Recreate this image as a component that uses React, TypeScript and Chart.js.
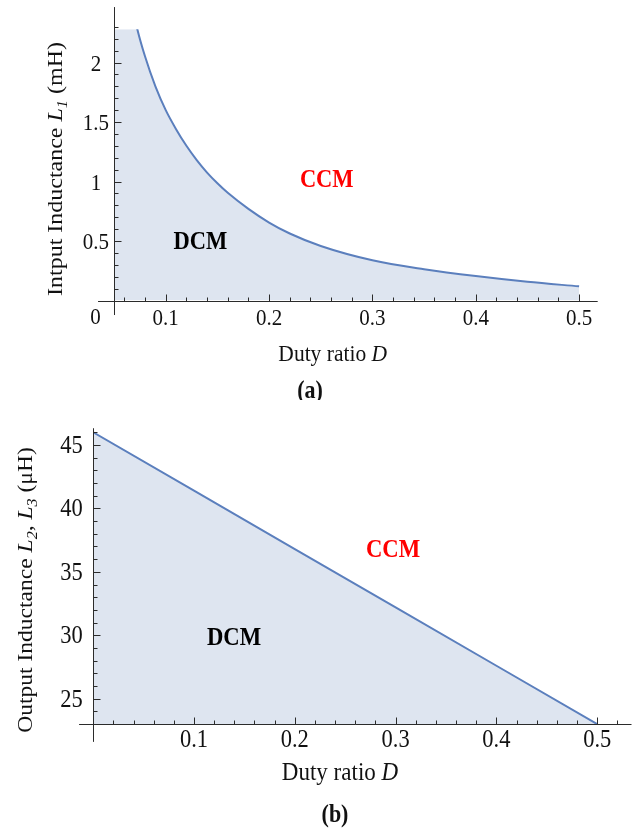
import React, { useEffect, useRef } from "react";
import { Chart, registerables } from "chart.js";

Chart.register(...registerables);

// ---------------- data ----------------
// (a) input inductance boundary L1 (mH) vs duty ratio D
const dutyA = [0.05, 0.06, 0.0725, 0.08, 0.09, 0.1, 0.11, 0.12, 0.13, 0.14, 0.15, 0.16, 0.18, 0.2, 0.22, 0.25, 0.3, 0.35, 0.4, 0.45, 0.5];
const inductanceL1 = [3.4, 2.78, 2.28, 2.05, 1.8, 1.6, 1.44, 1.3, 1.18, 1.075, 0.985, 0.905, 0.77, 0.655, 0.563, 0.458, 0.338, 0.263, 0.205, 0.157, 0.119];

// (b) output inductance boundary L2, L3 (uH) vs duty ratio D
const dutyB = [0, 0.1, 0.2, 0.3, 0.4, 0.5];
const inductanceL23 = [46, 41.4, 36.8, 32.2, 27.6, 23];

// tick labels
const ticksAX = [0.1, 0.2, 0.3, 0.4, 0.5];
const ticksAXLabels = ["0.1", "0.2", "0.3", "0.4", "0.5"];
const ticksAY = [0.5, 1, 1.5, 2];
const ticksAYLabels = ["0.5", "1", "1.5", "2"];
const ticksBX = [0.1, 0.2, 0.3, 0.4, 0.5];
const ticksBXLabels = ["0.1", "0.2", "0.3", "0.4", "0.5"];
const ticksBY = [25, 30, 35, 40, 45];
const ticksBYLabels = ["25", "30", "35", "40", "45"];

// region labels
const regionLabelsA = [
  { text: "DCM", d: 0.1335, l: 0.437, color: "#000000" },
  { text: "CCM", d: 0.2558, l: 0.956, color: "#ff0000" },
];
const regionLabelsB = [
  { text: "DCM", d: 0.1397, l: 29.23, color: "#000000" },
  { text: "CCM", d: 0.2974, l: 36.19, color: "#ff0000" },
];

// ---------------- styling ----------------
const FONT = '"Liberation Serif", "Times New Roman", Times, serif';
const LINE_COLOR = "#5b7fbd";
const FILL_COLOR = "#dee5f0";
const AXIS_COLOR = "#2b2b2b";
const STRETCH = 1.1;

type Part = { t: string; size: number; style?: string; weight?: string; dy?: number };

function fontOf(p: Part) {
  return `${p.style || "normal"} ${p.weight || "normal"} ${p.size}px ${FONT}`;
}

function drawParts(
  ctx: CanvasRenderingContext2D,
  parts: Part[],
  x: number,
  y: number,
  color: string,
  rotate = false,
  stretch = STRETCH
) {
  ctx.save();
  ctx.translate(x, y);
  if (rotate) {
    ctx.rotate(-Math.PI / 2);
    ctx.scale(stretch, 1);
  } else {
    ctx.scale(1, stretch);
  }
  ctx.fillStyle = color;
  ctx.textAlign = "left";
  ctx.textBaseline = "alphabetic";
  const widths = parts.map((p) => {
    ctx.font = fontOf(p);
    return ctx.measureText(p.t).width;
  });
  const total = widths.reduce((a, b) => a + b, 0);
  let cx = -total / 2;
  parts.forEach((p, i) => {
    ctx.font = fontOf(p);
    ctx.fillText(p.t, cx, p.dy || 0);
    cx += widths[i];
  });
  ctx.restore();
}

function steps(from: number, to: number, step: number, skip: number[]) {
  const out: number[] = [];
  const n = Math.round((to - from) / step);
  for (let i = 0; i <= n; i++) {
    const v = +(from + i * step).toFixed(6);
    if (!skip.some((s) => Math.abs(s - v) < 1e-9)) out.push(v);
  }
  return out;
}

type AxesSpec = {
  xAxisAt: number;
  yAxisAt: number;
  xExtent: [number, number];
  yExtent: [number, number];
  xMajor: number[];
  xLabels: string[];
  xMinor: number[];
  yMajor: number[];
  yLabels: string[];
  yMinor: number[];
  tickSize: number;
  xLabelOffset: number;
  yLabelOffset: number;
  yLabelBaseShift: number;
  regions: { text: string; d: number; l: number; color: string }[];
  regionSize: number;
  extra: (ctx: CanvasRenderingContext2D) => void;
};

function axesPlugin(spec: AxesSpec) {
  return {
    id: "mathAxes",
    afterDraw(chart: any) {
      const ctx: CanvasRenderingContext2D = chart.ctx;
      const xs = chart.scales.x;
      const ys = chart.scales.y;
      const ax = Math.round(ys.getPixelForValue(spec.xAxisAt)) + 0.5;
      const ay = Math.round(xs.getPixelForValue(spec.yAxisAt)) + 0.5;
      ctx.save();
      ctx.strokeStyle = AXIS_COLOR;
      ctx.lineWidth = 1;
      ctx.beginPath();
      ctx.moveTo(xs.getPixelForValue(spec.xExtent[0]), ax);
      ctx.lineTo(xs.getPixelForValue(spec.xExtent[1]), ax);
      ctx.moveTo(ay, ys.getPixelForValue(spec.yExtent[0]));
      ctx.lineTo(ay, ys.getPixelForValue(spec.yExtent[1]));
      const tick = (v: number, len: number, isX: boolean) => {
        if (isX) {
          const px = Math.round(xs.getPixelForValue(v)) + 0.5;
          ctx.moveTo(px, ax);
          ctx.lineTo(px, ax - len);
        } else {
          const py = Math.round(ys.getPixelForValue(v)) + 0.5;
          ctx.moveTo(ay, py);
          ctx.lineTo(ay + len, py);
        }
      };
      spec.xMajor.forEach((v) => tick(v, 7, true));
      spec.xMinor.forEach((v) => tick(v, 4, true));
      spec.yMajor.forEach((v) => tick(v, 7, false));
      spec.yMinor.forEach((v) => tick(v, 4, false));
      ctx.stroke();
      ctx.restore();

      spec.xMajor.forEach((v, i) => {
        drawParts(ctx, [{ t: spec.xLabels[i], size: spec.tickSize }], xs.getPixelForValue(v), ax + spec.xLabelOffset, "#111");
      });
      spec.yMajor.forEach((v, i) => {
        drawParts(
          ctx,
          [{ t: spec.yLabels[i], size: spec.tickSize }],
          ay - spec.yLabelOffset,
          ys.getPixelForValue(v) + spec.yLabelBaseShift,
          "#111"
        );
      });
      spec.regions.forEach((r) => {
        drawParts(
          ctx,
          [{ t: r.text, size: spec.regionSize, weight: "bold" }],
          xs.getPixelForValue(r.d),
          ys.getPixelForValue(r.l),
          r.color
        );
      });
      spec.extra(ctx);
    },
  };
}

export default function App() {
  const refA = useRef<HTMLCanvasElement | null>(null);
  const refB = useRef<HTMLCanvasElement | null>(null);

  useEffect(() => {
    if (!refA.current || !refB.current) return;

    const chartA = new Chart(refA.current, {
      type: "line",
      data: {
        datasets: [
          {
            data: dutyA.map((d, i) => ({ x: d, y: inductanceL1[i] })),
            borderColor: LINE_COLOR,
            borderWidth: 2,
            backgroundColor: FILL_COLOR,
            fill: "origin",
            pointRadius: 0,
            cubicInterpolationMode: "monotone",
            clip: 0,
          },
        ],
      },
      options: {
        responsive: false,
        animation: false,
        events: [],
        layout: { padding: { left: 114.07, right: 36.3, top: 29.2, bottom: 99.5 } },
        scales: {
          x: { type: "linear", min: 0.05, max: 0.518, display: false },
          y: { type: "linear", min: 0, max: 2.28, display: false },
        },
        plugins: { legend: { display: false }, tooltip: { enabled: false } },
      },
      plugins: [
        axesPlugin({
          xAxisAt: 0,
          yAxisAt: 0.05,
          xExtent: [0.0345, 0.518],
          yExtent: [-0.122, 2.466],
          xMajor: ticksAX,
          xLabels: ticksAXLabels,
          xMinor: steps(0.06, 0.5, 0.02, ticksAX),
          yMajor: ticksAY,
          yLabels: ticksAYLabels,
          yMinor: steps(0.1, 2.3, 0.1, ticksAY),
          tickSize: 21,
          xLabelOffset: 23.5,
          yLabelOffset: 18.6,
          yLabelBaseShift: 8,
          regions: regionLabelsA,
          regionSize: 22.5,
          extra: (ctx) => {
            drawParts(ctx, [{ t: "0", size: 21 }], 95.5, 324, "#111");
            drawParts(
              ctx,
              [
                { t: "Intput Inductance ", size: 22 },
                { t: "L", size: 22, style: "italic" },
                { t: "1", size: 15, style: "italic", dy: 5 },
                { t: " (mH)", size: 22 },
              ],
              62,
              169,
              "#111",
              true,
              1.09
            );
            drawParts(
              ctx,
              [
                { t: "Duty ratio ", size: 21.5 },
                { t: "D", size: 21.5, style: "italic" },
              ],
              332.7,
              361,
              "#111"
            );
            drawParts(ctx, [{ t: "(a)", size: 22, weight: "bold" }], 310, 398, "#111");
          },
        }) as any,
      ],
    });

    const chartB = new Chart(refB.current, {
      type: "line",
      data: {
        datasets: [
          {
            data: dutyB.map((d, i) => ({ x: d, y: inductanceL23[i] })),
            borderColor: LINE_COLOR,
            borderWidth: 2,
            backgroundColor: FILL_COLOR,
            fill: { value: 23 },
            pointRadius: 0,
            tension: 0,
          },
        ],
      },
      options: {
        responsive: false,
        animation: false,
        events: [],
        layout: { padding: { left: 93.2, right: 2.5, top: 28.5, bottom: 103.9 } },
        scales: {
          x: { type: "linear", min: 0, max: 0.534, display: false },
          y: { type: "linear", min: 23, max: 46.3, display: false },
        },
        plugins: { legend: { display: false }, tooltip: { enabled: false } },
      },
      plugins: [
        axesPlugin({
          xAxisAt: 23,
          yAxisAt: 0,
          xExtent: [-0.014, 0.534],
          yExtent: [21.6, 46.32],
          xMajor: ticksBX,
          xLabels: ticksBXLabels,
          xMinor: steps(0.02, 0.52, 0.02, ticksBX),
          yMajor: ticksBY,
          yLabels: ticksBYLabels,
          yMinor: steps(23, 46, 1, ticksBY),
          tickSize: 22.5,
          xLabelOffset: 22.6,
          yLabelOffset: 21.9,
          yLabelBaseShift: 8,
          regions: regionLabelsB,
          regionSize: 22.7,
          extra: (ctx) => {
            drawParts(
              ctx,
              [
                { t: "Output Inductance ", size: 22 },
                { t: "L", size: 22, style: "italic" },
                { t: "2", size: 15, style: "italic", dy: 5 },
                { t: ", ", size: 22 },
                { t: "L", size: 22, style: "italic" },
                { t: "3", size: 15, style: "italic", dy: 5 },
                { t: " (\u03bcH)", size: 22 },
              ],
              31.5,
              190,
              "#111",
              true,
              1.07
            );
            drawParts(
              ctx,
              [
                { t: "Duty ratio ", size: 23 },
                { t: "D", size: 23, style: "italic" },
              ],
              340,
              380,
              "#111"
            );
            drawParts(ctx, [{ t: "(b)", size: 22, weight: "bold" }], 335, 421.7, "#111");
          },
        }) as any,
      ],
    });

    return () => {
      chartA.destroy();
      chartB.destroy();
    };
  }, []);

  return (
    <div style={{ position: "absolute", left: 0, top: 0, width: 634, height: 828, background: "#fff" }}>
      <canvas ref={refA} width={634} height={400} style={{ position: "absolute", left: 0, top: 0, display: "block" }} />
      <canvas ref={refB} width={634} height={428} style={{ position: "absolute", left: 0, top: 400, display: "block" }} />
    </div>
  );
}
